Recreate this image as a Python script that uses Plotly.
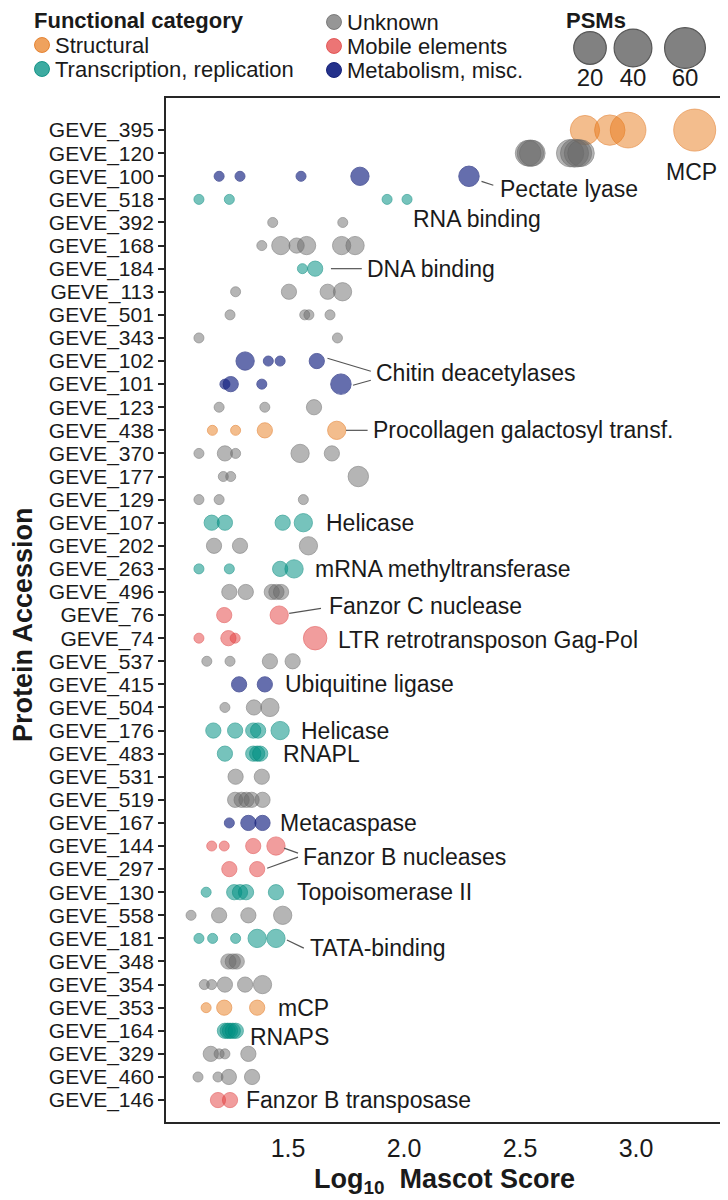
import math
import plotly.graph_objects as go

# y-axis categories, top to bottom
PROTEINS = [
    "GEVE_395", "GEVE_120", "GEVE_100", "GEVE_518", "GEVE_392", "GEVE_168",
    "GEVE_184", "GEVE_113", "GEVE_501", "GEVE_343", "GEVE_102", "GEVE_101",
    "GEVE_123", "GEVE_438", "GEVE_370", "GEVE_177", "GEVE_129", "GEVE_107",
    "GEVE_202", "GEVE_263", "GEVE_496", "GEVE_76", "GEVE_74", "GEVE_537",
    "GEVE_415", "GEVE_504", "GEVE_176", "GEVE_483", "GEVE_531", "GEVE_519",
    "GEVE_167", "GEVE_144", "GEVE_297", "GEVE_130", "GEVE_558", "GEVE_181",
    "GEVE_348", "GEVE_354", "GEVE_353", "GEVE_164", "GEVE_329", "GEVE_460",
    "GEVE_146",
]

S, T, U, M, X = ("Structural", "Transcription, replication", "Unknown",
                 "Mobile elements", "Metabolism, misc.")
CATEGORY = [
    S, U, X, T, U, U,
    T, U, U, U, X, X,
    U, S, U, U, U, T,
    U, T, U, M, M, U,
    X, U, T, T, U, U,
    X, M, M, T, U, T,
    U, U, S, T, U, U,
    M,
]

# log10 Mascot score of each point, per protein
SCORES = [
    [2.780, 2.887, 2.966, 3.253],
    [2.535, 2.545, 2.553, 2.716, 2.735, 2.750, 2.763],
    [1.203, 1.293, 1.556, 1.810, 2.280],
    [1.116, 1.247, 1.927, 2.013],
    [1.434, 1.736],
    [1.387, 1.469, 1.537, 1.580, 1.731, 1.789],
    [1.562, 1.617],
    [1.274, 1.504, 1.671, 1.735],
    [1.250, 1.572, 1.590, 1.681],
    [1.116, 1.713],
    [1.315, 1.415, 1.466, 1.624],
    [1.228, 1.253, 1.387, 1.728],
    [1.203, 1.400, 1.612],
    [1.174, 1.274, 1.400, 1.710],
    [1.116, 1.228, 1.274, 1.552, 1.689],
    [1.221, 1.253, 1.803],
    [1.116, 1.203, 1.566],
    [1.171, 1.228, 1.477, 1.566],
    [1.181, 1.293, 1.588],
    [1.116, 1.247, 1.466, 1.526],
    [1.247, 1.318, 1.430, 1.450, 1.470],
    [1.225, 1.462],
    [1.116, 1.243, 1.272, 1.617],
    [1.150, 1.250, 1.422, 1.520],
    [1.289, 1.400],
    [1.228, 1.353, 1.422],
    [1.178, 1.272, 1.350, 1.371, 1.466],
    [1.228, 1.350, 1.367, 1.380],
    [1.274, 1.387],
    [1.272, 1.300, 1.321, 1.343, 1.390],
    [1.247, 1.329, 1.390],
    [1.171, 1.225, 1.350, 1.448],
    [1.247, 1.367],
    [1.147, 1.268, 1.293, 1.319, 1.448],
    [1.082, 1.203, 1.329, 1.477],
    [1.116, 1.175, 1.274, 1.367, 1.448],
    [1.243, 1.262, 1.279],
    [1.139, 1.171, 1.228, 1.315, 1.390],
    [1.147, 1.225, 1.367],
    [1.228, 1.240, 1.250, 1.262, 1.275],
    [1.167, 1.203, 1.228, 1.329],
    [1.112, 1.198, 1.245, 1.345],
    [1.198, 1.250],
]

PSMS = [
    [13, 15, 30, 70],
    [8, 9, 8, 10, 11, 10, 9],
    [1, 1, 1, 3, 4],
    [1, 1, 1, 1],
    [1, 1],
    [1, 3, 2, 3, 3, 3],
    [1, 2],
    [1, 2, 2, 3],
    [1, 1, 1, 1],
    [1, 1],
    [3, 1, 1, 2],
    [1, 2, 1, 4],
    [1, 1, 2],
    [1, 1, 2, 3],
    [1, 2, 1, 3, 2],
    [1, 1, 4],
    [1, 1, 1],
    [2, 2, 2, 3],
    [2, 2, 3],
    [1, 1, 2, 3],
    [2, 2, 2, 2, 2],
    [2, 3],
    [1, 2, 1, 6],
    [1, 1, 2, 2],
    [2, 2],
    [1, 2, 3],
    [2, 2, 2, 2, 3],
    [2, 2, 2, 2],
    [2, 2],
    [2, 2, 2, 2, 2],
    [1, 2, 2],
    [1, 1, 2, 3],
    [2, 2],
    [1, 2, 2, 2, 2],
    [1, 2, 2, 3],
    [1, 1, 1, 3, 3],
    [2, 2, 2],
    [1, 1, 2, 2, 3],
    [1, 2, 2],
    [2, 2, 2, 2, 2],
    [2, 1, 1, 2],
    [1, 1, 2, 2],
    [2, 2],
]

PSM_BREAKS = [20, 40, 60]
X_TICKS = [1.5, 2.0, 2.5, 3.0]

# text labels: (text, x, row index counted from the bottom)
LABELS = [
    ("Pectate lyase", 2.407, 39.44),
    ("RNA binding", 2.029, 38.14),
    ("DNA binding", 1.831, 36),
    ("Chitin deacetylases", 1.870, 31.47),
    ("Procollagen galactosyl transf.", 1.857, 29),
    ("Helicase", 1.654, 25),
    ("mRNA methyltransferase", 1.606, 23),
    ("Fanzor C nuclease", 1.670, 21.39),
    ("LTR retrotransposon Gag-Pol", 1.706, 19.91),
    ("Ubiquitine ligase", 1.477, 18),
    ("Helicase", 1.549, 16),
    ("RNAPL", 1.470, 15),
    ("Metacaspase", 1.456, 12),
    ("Fanzor B nucleases", 1.557, 10.53),
    ("Topoisomerase II", 1.530, 9),
    ("TATA-binding", 1.585, 6.58),
    ("mCP", 1.449, 4),
    ("RNAPS", 1.327, 2.74),
    ("Fanzor B transposase", 1.311, 0),
]
# leader lines: x0, y0, x1, y1
LEADERS = [
    (2.334, 39.78, 2.385, 39.61),
    (1.685, 36, 1.818, 36),
    (1.670, 32.12, 1.857, 31.56),
    (1.780, 30.95, 1.857, 31.17),
    (1.750, 29, 1.843, 29),
    (1.505, 21.07, 1.642, 21.29),
    (1.483, 10.91, 1.543, 10.69),
    (1.410, 10.04, 1.543, 10.52),
    (1.495, 6.93, 1.568, 6.58),
]

COLORS = {
    S: ("rgba(232,122,25,0.7)", "rgba(225,115,25,0.8)"),
    T: ("rgba(0,145,132,0.76)", "rgba(0,135,122,0.82)"),
    U: ("rgba(105,105,105,0.7)", "rgba(100,100,100,0.75)"),
    M: ("rgba(228,58,58,0.7)", "rgba(220,60,60,0.75)"),
    X: ("rgba(22,36,132,0.94)", "rgba(18,30,118,0.95)"),
}

FONT = "Liberation Sans, Arial, sans-serif"
INK = "#1a1a1a"

# the page body adds an 8px margin, so the figure starts 8px in
OFF = 8
W, H = 728 - OFF, 1200 - OFF
# frame of the plot panel in page pixels
FL, FR, FT, FB = 166, 723, 98, 1122
N = len(PROTEINS)

# legend placement in page pixels
LEG_KEY = {S: (42, 45), T: (42, 69), U: (334, 22), M: (334, 46), X: (334, 70)}
LEG_TITLE = (32, 20)
PSM_KEY_X = [590, 633, 685]
PSM_KEY_Y, PSM_LAB_Y, PSM_TITLE = 48, 80, (596, 20)

D_MIN, D_MAX, PSM_MAX = 10, 42, 70


def psm_to_px(n):
    # log-scaled point diameter
    return D_MIN + (D_MAX - D_MIN) * math.log(n) / math.log(PSM_MAX)


fig = go.Figure()

for cat in [S, T, U, M, X]:
    xs, ys, ss = [], [], []
    for prot, c, sc, ps in zip(PROTEINS, CATEGORY, SCORES, PSMS):
        if c != cat:
            continue
        xs += sc
        ys += [prot] * len(sc)
        ss += [psm_to_px(p) for p in ps]
    fill, edge = COLORS[cat]
    fig.add_trace(go.Scatter(
        x=xs, y=ys, mode="markers", name=cat, showlegend=False,
        marker=dict(size=ss, color=fill, line=dict(color=edge, width=1)),
    ))
    # legend key
    kx, ky = LEG_KEY[cat]
    fig.add_trace(go.Scatter(
        x=[kx], y=[ky], xaxis="x3", yaxis="y3", mode="markers",
        showlegend=False, hoverinfo="skip",
        marker=dict(size=15, color=fill, line=dict(color=edge, width=1)),
    ))

# size legend
fig.add_trace(go.Scatter(
    x=PSM_KEY_X, y=[PSM_KEY_Y] * 3, xaxis="x3", yaxis="y3",
    mode="markers", showlegend=False, hoverinfo="skip",
    marker=dict(size=[psm_to_px(b) for b in PSM_BREAKS],
                color="rgba(45,45,45,0.85)", line=dict(color="#111", width=1.2)),
))
fig.add_trace(go.Scatter(
    x=PSM_KEY_X, y=[PSM_LAB_Y] * 3, xaxis="x3", yaxis="y3",
    mode="text", text=[str(b) for b in PSM_BREAKS], showlegend=False,
    hoverinfo="skip", textfont=dict(size=24, color=INK, family=FONT),
))

annotations = []
for text, x, y in LABELS:
    annotations.append(dict(
        text=text, x=x, y=y, xref="x", yref="y", xanchor="left",
        yanchor="middle", showarrow=False, font=dict(size=23, color=INK),
    ))
annotations.append(dict(
    text="MCP", x=3.24, y=40.17, xref="x", yref="y", xanchor="center",
    yanchor="middle", showarrow=False, font=dict(size=23, color=INK),
))
for cat, (kx, ky) in LEG_KEY.items():
    annotations.append(dict(
        text=cat, x=kx + 11, y=ky, xref="x3", yref="y3", xanchor="left",
        yanchor="middle", showarrow=False, font=dict(size=22, color=INK),
    ))
annotations += [
    dict(text="<b>Functional category</b>", x=LEG_TITLE[0], y=LEG_TITLE[1],
         xref="x3", yref="y3", xanchor="left", yanchor="middle",
         showarrow=False, font=dict(size=22, color=INK)),
    dict(text="<b>PSMs</b>", x=PSM_TITLE[0], y=PSM_TITLE[1],
         xref="x3", yref="y3", xanchor="center", yanchor="middle",
         showarrow=False, font=dict(size=22, color=INK)),
    dict(text="<b>Protein Accession</b>", textangle=-90, x=23, y=625,
         xref="x3", yref="y3", xanchor="center", yanchor="middle",
         showarrow=False, font=dict(size=27, color=INK)),
    dict(text="<b>Log<sub>10</sub>  Mascot Score</b>", x=444, y=1181,
         xref="x3", yref="y3", xanchor="center", yanchor="middle",
         showarrow=False, font=dict(size=27, color=INK)),
]

shapes = [
    dict(type="line", xref="x", yref="y", x0=a, y0=b, x1=c, y1=d,
         line=dict(color="#555", width=1.2))
    for a, b, c, d in LEADERS
]

fig.update_layout(
    width=W, height=H,
    margin=dict(l=0, r=0, t=0, b=0),
    paper_bgcolor="white", plot_bgcolor="rgba(0,0,0,0)",
    font=dict(family=FONT, color=INK),
    showlegend=False,
    xaxis=dict(
        domain=[(FL - OFF) / W, (FR - OFF) / W], range=[0.974, 3.375],
        tickvals=X_TICKS, ticktext=[f"{v:.1f}" for v in X_TICKS],
        ticks="", showgrid=False, zeroline=False,
        showline=True, mirror=True, linecolor="#262626", linewidth=1.8,
        tickfont=dict(size=25), ticklabelstandoff=3,
    ),
    yaxis=dict(
        domain=[1 - (FB - OFF) / H, 1 - (FT - OFF) / H], type="category",
        categoryorder="array", categoryarray=PROTEINS[::-1],
        tickmode="array", tickvals=PROTEINS,
        range=[-0.95, N - 1 + 1.39],
        ticks="outside", ticklen=6, tickwidth=2, tickcolor="#262626",
        showgrid=False, zeroline=False,
        showline=True, mirror=True, linecolor="#262626", linewidth=1.8,
        tickfont=dict(size=21),
    ),
    # page-pixel overlay used for the legends and axis titles
    xaxis3=dict(domain=[0, 1], range=[OFF, OFF + W], visible=False,
                anchor="y3"),
    yaxis3=dict(domain=[0, 1], range=[OFF + H, OFF], visible=False,
                anchor="x3"),
    annotations=annotations,
    shapes=shapes,
)

fig.write_html("out.html")
